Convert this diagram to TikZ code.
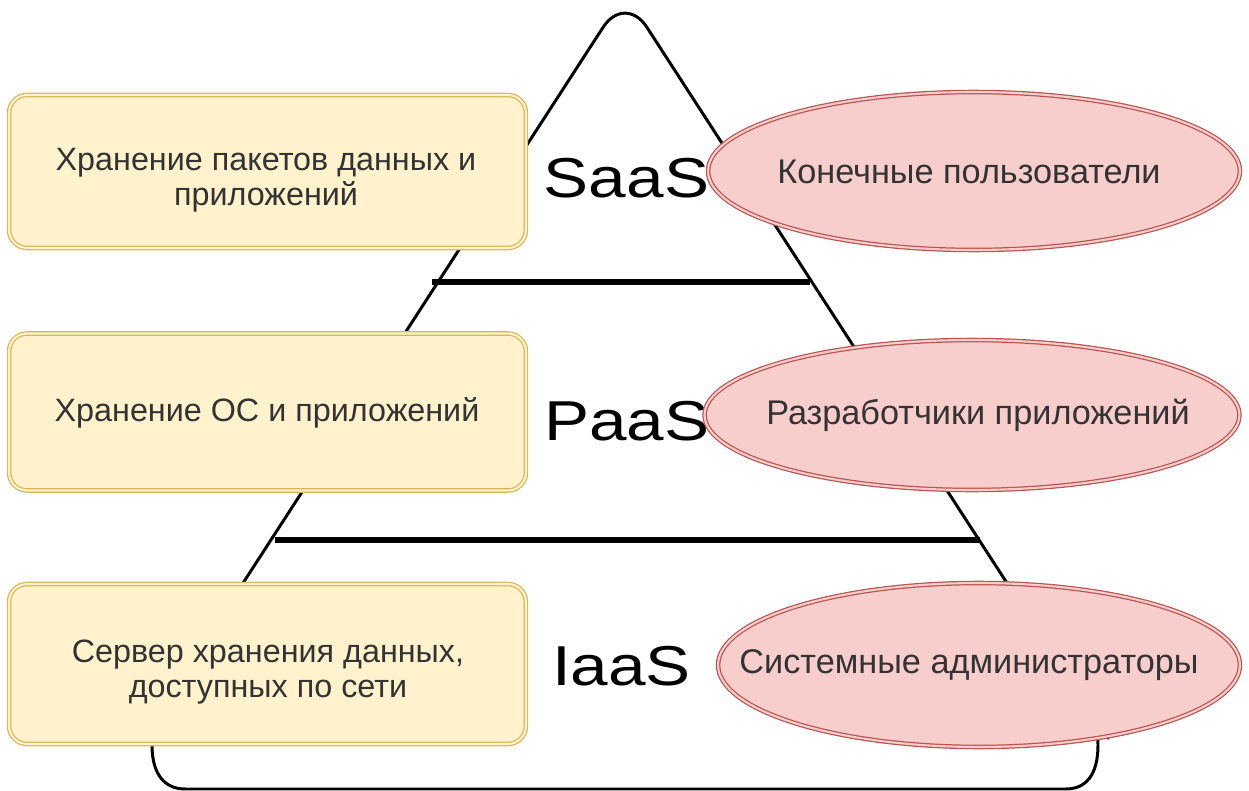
\documentclass[tikz,border=0pt]{standalone}
\usepackage{fontspec}
\setmainfont{Liberation Sans}
\newfontfamily\labelfont[FakeStretch=1.2]{Liberation Sans}
\usetikzlibrary{shapes.geometric}

\definecolor{boxfill}{HTML}{FFF2CC}
\definecolor{boxline}{HTML}{D6B656}
\definecolor{ovalfill}{HTML}{F8CECC}
\definecolor{ovalline}{HTML}{B85450}
\definecolor{txt}{HTML}{333333}

\tikzset{
  pyramid/.style={draw=black, line width=1.7pt, line join=round},
  divider/.style={draw=black, line width=2.9pt},
  layerbox/.style={rectangle, rounded corners=0.36cm, fill=boxfill,
    draw=boxline, double=boxfill, double distance=1.2pt, line width=0.7pt,
    inner sep=0pt, text=txt, align=center},
  boxtext/.style={text=txt, align=center, inner sep=0pt,
    font=\fontsize{18.4}{20.2}\selectfont},
  roleoval/.style={ellipse, fill=ovalfill, draw=ovalline, double=ovalfill,
    double distance=1.2pt, line width=0.7pt, inner sep=0pt},
  ovaltext/.style={text=txt, inner sep=0pt,
    font=\fontsize{19.5}{22}\selectfont},
  tier/.style={anchor=base, inner sep=0pt, text=black,
    font=\labelfont\fontsize{32}{36}\selectfont}
}

\begin{document}
\begin{tikzpicture}[x=0.02cm, y=-0.02cm]
  \useasboundingbox (0,0) rectangle (1249,791);

  % pyramid outline: rounded apex, rounded bottom
  \coordinate (apex) at (625,-6.5);
  \coordinate (lb) at (164,705);
  \coordinate (rb) at (1086,705);
  \draw[pyramid, rounded corners=0.8cm] (lb) -- (apex) -- (rb)
    [sharp corners]
    .. controls (1096,720) and (1098,730) .. (1098,745)
    .. controls (1098,776) and (1085,789) .. (1066,789)
    -- (185,789)
    .. controls (166,789) and (152,776) .. (152,745)
    .. controls (152,730) and (154,720) .. (lb);

  % level dividers
  \coordinate (d1l) at (432,282);
  \coordinate (d1r) at (810,282);
  \coordinate (d2l) at (275,540);
  \coordinate (d2r) at (980,540);
  \draw[divider] (d1l) -- (d1r);
  \draw[divider] (d2l) -- (d2r);

  % what is stored at each level
  \node[layerbox, minimum width=10.34cm, minimum height=3.06cm] (b1) at (267.5,171.5) {};
  \node[boxtext] (t1) at (266,180) {Хранение пакетов данных и\\приложений};
  \node[layerbox, minimum width=10.34cm, minimum height=3.14cm] (b2) at (267.5,412) {};
  \node[boxtext] (t2) at (267,413) {Хранение ОС и приложений};
  \node[layerbox, minimum width=10.34cm, minimum height=3.2cm] (b3) at (267.5,664) {};
  \node[boxtext] (t3) at (268,672) {Сервер хранения данных,\\доступных по сети};

  % service models
  \node[tier] (saas) at (626.5,197) {SaaS};
  \node[tier] (paas) at (627,440) {PaaS};
  \node[tier] (iaas) at (621.5,685) {IaaS};

  % who uses each level
  \node[roleoval, minimum width=10.64cm, minimum height=3.16cm] (e1) at (974,171) {};
  \node[ovaltext] (u1) at (969,172) {Конечные пользователи};
  \node[roleoval, minimum width=10.7cm, minimum height=3.0cm] (e2) at (972,415) {};
  \node[ovaltext] (u2) at (978,415) {Разработчики приложений};
  \node[roleoval, minimum width=10.44cm, minimum height=3.28cm] (e3) at (979,665) {};
  \node[ovaltext] (u3) at (969,665) {Системные администраторы};
\end{tikzpicture}
\end{document}
